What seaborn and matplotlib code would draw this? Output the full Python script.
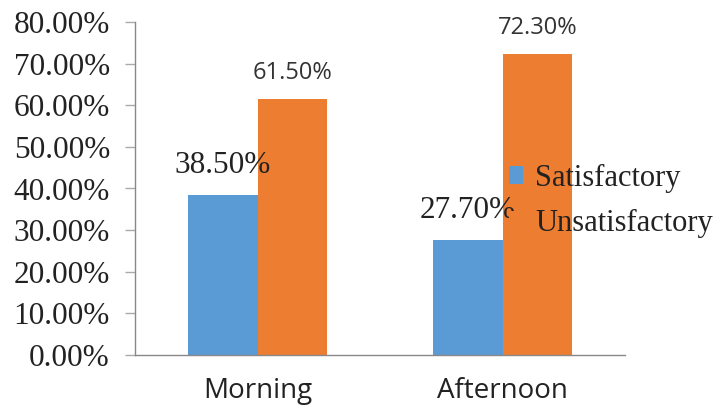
import matplotlib
matplotlib.use("Agg")
import matplotlib.pyplot as plt
import seaborn as sns
import pandas as pd
from matplotlib.patches import Patch

categories = ["Morning", "Afternoon"]
series_names = ["Satisfactory", "Unsatisfactory"]
satisfactory = [0.385, 0.277]
unsatisfactory = [0.615, 0.723]
ytick_values = [0.0, 0.1, 0.2, 0.3, 0.4, 0.5, 0.6, 0.7, 0.8]

df = pd.DataFrame({
    "time": categories * 2,
    "series": [series_names[0]] * 2 + [series_names[1]] * 2,
    "value": satisfactory + unsatisfactory,
})

sns.set_style("white")
colors = {"Satisfactory": "#5B9BD5", "Unsatisfactory": "#ED7D31"}

fig = plt.figure(figsize=(7.21, 4.15), dpi=100)
ax = fig.add_axes([135/721, 1-355/415, 490/721, (355-22)/415])

sns.barplot(data=df, x="time", y="value", hue="series", order=categories,
            hue_order=series_names, palette=colors, width=0.57, dodge=True,
            ax=ax, legend=False, saturation=1, linewidth=0)

ax.set_xlim(-0.5, 1.5)
ax.set_ylim(0, 0.8)
ax.set_yticks(ytick_values)
ax.set_yticklabels([f"{v*100:.2f}%" for v in ytick_values],
                   fontfamily="Liberation Serif", fontsize=22.5, color="#222222")
ax.set_xticks([-0.5, 0.5, 1.5])
ax.set_xticklabels([])
ax.set_xticks([0, 1], minor=True)
ax.set_xticklabels(categories, minor=True, fontfamily="Open Sans",
                   fontsize=20, color="#222222")
ax.tick_params(axis="x", which="minor", length=0, pad=16)
ax.tick_params(axis="x", which="major", length=8, direction="out",
               color="#888888", width=1)
ax.tick_params(axis="y", length=7, direction="out", color="#aaaaaa",
               width=1, pad=11, left=True)
ax.set_xlabel("")
ax.set_ylabel("")
for s in ["top", "right"]:
    ax.spines[s].set_visible(False)
for s in ["left", "bottom"]:
    ax.spines[s].set_color("#888888")
    ax.spines[s].set_linewidth(1)

# value labels
for container, name in zip(ax.containers, series_names):
    for p in container:
        h = p.get_height()
        cx = p.get_x() + p.get_width() / 2
        if name == "Satisfactory":
            ax.annotate(f"{h*100:.2f}%", (cx, h), xytext=(0, 21),
                        textcoords="offset points", ha="center", va="center",
                        fontfamily="Liberation Serif", fontsize=22.5,
                        color="#222222")
        else:
            ax.annotate(f"{h*100:.2f}%", (cx, h), xytext=(0, 19),
                        textcoords="offset points", ha="center", va="center",
                        fontfamily="Open Sans", fontsize=17, color="#333333")

handles = [Patch(facecolor=colors[n], edgecolor="none", label=n)
           for n in series_names]
leg = fig.legend(handles=handles, loc="center left",
                 bbox_to_anchor=(509/721, 1-201/415), frameon=False,
                 prop={"family": "Liberation Serif", "size": 22},
                 handlelength=0.45, handleheight=0.55, handletextpad=0.4,
                 labelspacing=0.55, borderpad=0, borderaxespad=0)
for t in leg.get_texts():
    t.set_color("#222222")

fig.savefig("out.png", dpi=100)
